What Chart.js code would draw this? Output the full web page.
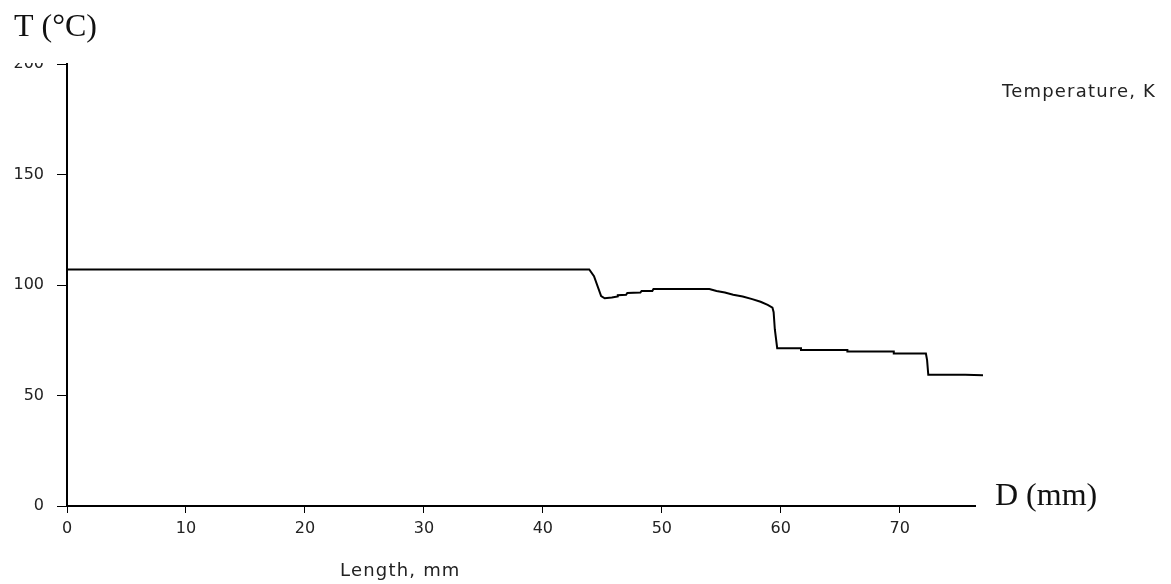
<!DOCTYPE html>
<html>
<head>
<meta charset="utf-8">
<script src="https://cdn.jsdelivr.net/npm/chart.js@4/dist/chart.umd.min.js"></script>
<style>
  html, body { margin: 0; padding: 0; background: #fff; }
  #wrap { width: 1171px; height: 584px; position: relative; }
</style>
</head>
<body>
<div id="wrap"><canvas id="c" width="1171" height="584"></canvas></div>
<script>
// Temperature profile along the length of the sample
const lengthMm = [0, 43.9, 44.3, 44.9, 45.2, 45.8, 46.3, 46.3, 47.0, 47.1, 48.2, 48.3, 49.2, 49.3,
  54.0, 54.6, 55.3, 56.0, 56.8, 57.6, 58.3, 58.9, 59.3, 59.4, 59.5, 59.7,
  61.7, 61.7, 65.6, 65.6, 69.5, 69.5, 72.2, 72.3, 72.4, 75.5, 77.0];
const temperatureK = [107, 107, 104, 95, 94, 94.3, 94.8, 95.4, 95.6, 96.4, 96.6, 97.3, 97.3, 98.2,
  98.2, 97.3, 96.6, 95.6, 94.8, 93.6, 92.4, 91.0, 89.8, 87.7, 80, 71.4,
  71.4, 70.6, 70.6, 69.9, 69.9, 69.0, 69.0, 66, 59.4, 59.4, 59.2];

const xTickValues = [0, 10, 20, 30, 40, 50, 60, 70];
const yTickValues = [0, 50, 100, 150, 200];

const seriesName = 'Temperature, K';
const xAxisName = 'Length, mm';
const yUnitLabel = 'T (\u00B0C)';
const xUnitLabel = 'D (mm)';

const tickFont = { family: '"DejaVu Sans", Verdana, sans-serif', size: 16 };
const serifFont = '32px "Liberation Serif", "Times New Roman", serif';
const captionFont = '18px "DejaVu Sans", Verdana, sans-serif';

const annotations = {
  id: 'annotations',
  afterDraw(chart) {
    const ctx = chart.ctx;
    ctx.save();
    // white panels behind the unit labels
    ctx.fillStyle = '#ffffff';
    ctx.fillRect(0, 0, 62, 63);
    ctx.fillRect(976, 382, 195, 202);

    ctx.fillStyle = '#111';
    ctx.textBaseline = 'alphabetic';
    ctx.textAlign = 'left';
    ctx.font = serifFont;
    ctx.fillText(yUnitLabel, 14, 36);
    ctx.fillText(xUnitLabel, 995, 505);

    ctx.fillStyle = '#222';
    ctx.font = captionFont;
    ctx.letterSpacing = '1.2px';
    ctx.fillText(seriesName, 1002, 97);
    ctx.fillText(xAxisName, 340, 576);
    ctx.restore();
  }
};

new Chart(document.getElementById('c'), {
  type: 'line',
  data: {
    datasets: [{
      label: seriesName,
      data: lengthMm.map((x, i) => ({ x: x, y: temperatureK[i] })),
      borderColor: '#000',
      borderWidth: 2,
      pointRadius: 0,
      tension: 0,
      fill: false
    }]
  },
  options: {
    responsive: false,
    animation: false,
    layout: { padding: { left: 0, top: 64, right: 188, bottom: 0 } },
    plugins: { legend: { display: false }, tooltip: { enabled: false } },
    scales: {
      x: {
        type: 'linear',
        min: 0,
        max: 77,
        afterFit(scale) { scale.height = 78; },
        afterBuildTicks(scale) { scale.ticks = xTickValues.map(v => ({ value: v })); },
        border: { display: true, color: '#000', width: 2 },
        grid: { display: true, drawOnChartArea: false, drawTicks: true, tickLength: 7, color: '#000', lineWidth: 1 },
        ticks: { color: '#222', font: tickFont, padding: 6, maxRotation: 0 }
      },
      y: {
        min: 0,
        max: 200,
        afterFit(scale) { scale.width = 67; },
        afterBuildTicks(scale) { scale.ticks = yTickValues.map(v => ({ value: v })); },
        border: { display: true, color: '#000', width: 2 },
        grid: { display: true, drawOnChartArea: false, drawTicks: true, tickLength: 10, color: '#000', lineWidth: 1 },
        ticks: { color: '#222', font: tickFont, padding: 13 }
      }
    }
  },
  plugins: [annotations]
});
</script>
</body>
</html>
